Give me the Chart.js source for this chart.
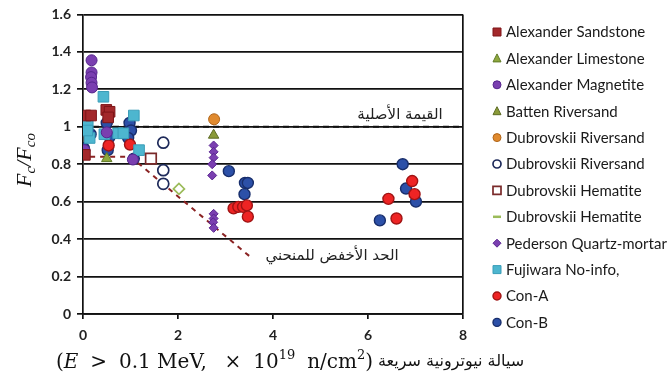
<!DOCTYPE html>
<html>
<head>
<meta charset="utf-8">
<script src="https://cdn.jsdelivr.net/npm/chart.js@4.4.0/dist/chart.umd.min.js"></script>
<style>
html,body{margin:0;padding:0;background:#fff;}
#wrap{width:672px;height:383px;}
</style>
</head>
<body>
<div id="wrap"><canvas id="c" width="672" height="383"></canvas></div>
<script>
// Axis ticks
const xTicks = [0, 2, 4, 6, 8];
const yTicks = [0, 0.2, 0.4, 0.6, 0.8, 1, 1.2, 1.4, 1.6];
const yTickLabels = ['0', '0.2', '0.4', '0.6', '0.8', '1', '1.2', '1.4', '1.6'];

// Series names (legend order)
const seriesNames = [
  'Alexander Sandstone', 'Alexander Limestone', 'Alexander Magnetite', 'Batten Riversand',
  'Dubrovskii Riversand', 'Dubrovskii Riversand', 'Dubrovskii Hematite', 'Dubrovskii Hematite',
  'Pederson Quartz-mortar', 'Fujiwara No-info,', 'Con-A', 'Con-B'
];

// Measurements: [fluence (x10^19 n/cm^2), Fc/Fco]
const alexSandstone = [[0.05,1.06],[0.17,1.06],[0.49,1.09],[0.56,1.08],[0.53,1.05],[0.04,0.85]];
const alexLimestone = [[0.5,0.83]];
const alexMagnetite = [[0.18,1.355],[0.18,1.29],[0.17,1.265],[0.18,1.235],[0.19,1.21],[0.03,0.875],[0.5,0.97],[1.05,0.825]];
const battenRiversand = [[2.75,0.955]];
const dubRiversandA = [[2.76,1.04]];
const dubRiversandB = [[1.69,0.915],[1.69,0.768],[1.69,0.695]];
const dubHematiteA = [[1.43,0.83]];
const dubHematiteB = [[2.02,0.668]];
const pedersonQuartz = [[2.75,0.90],[2.75,0.866],[2.75,0.835],[2.72,0.80],[2.72,0.74],[2.75,0.535],[2.75,0.51],[2.74,0.49],[2.75,0.46]];
const fujiwara = [[0.43,1.16],[1.07,1.06],[1.18,0.875],[0.74,0.965],[0.85,0.965],[0.1,1.01],[0.14,0.94],[0.09,0.98],[0.45,0.96]];
const conA = [[0.54,0.90],[0.99,0.905],[3.17,0.564],[3.27,0.572],[3.37,0.572],[3.45,0.58],[3.47,0.52],[6.43,0.615],[6.60,0.51],[6.93,0.71],[6.98,0.64]];
const conB = [[0.02,0.99],[0.02,0.885],[0.16,0.96],[0.5,1.02],[0.56,0.945],[0.52,0.875],[0.98,1.02],[1.01,0.98],[0.95,0.94],[1.07,0.83],[3.07,0.763],[3.41,0.70],[3.47,0.70],[3.40,0.64],[6.25,0.50],[6.73,0.80],[6.80,0.67],[7.01,0.60]];

// Reference lines
const originalValueLine = [[0,1],[8,1]];
const lowerBoundLine = [[0.15,0.84],[1.0,0.84],[3.5,0.31]];

const pts = a => a.map(p => ({x: p[0], y: p[1]}));

function series(i, data, style, fill, stroke, radius, bw) {
  return {
    label: seriesNames[i], data: pts(data), pointStyle: style,
    backgroundColor: fill, borderColor: stroke, pointRadius: radius,
    borderWidth: bw, showLine: false, legendStyle: style
  };
}

const datasets = [
  series(0, alexSandstone, 'rect', '#A3282B', '#7E1518', 7.5, 1),
  series(1, alexLimestone, 'triangle', '#8FA83E', '#5F7A26', 6, 1),
  series(2, alexMagnetite, 'circle', '#7A3FB0', '#55248C', 5.5, 1),
  series(3, battenRiversand, 'triangle', '#8A9A38', '#5C6B22', 6, 1),
  series(4, dubRiversandA, 'circle', '#E08A2E', '#B0651A', 5.5, 1),
  series(5, dubRiversandB, 'circle', '#FFFFFF', '#1E2A5A', 5.5, 1.7),
  series(6, dubHematiteA, 'rect', '#FFFFFF', '#7A2A2A', 7.5, 1.7),
  series(7, dubHematiteB, 'rectRot', '#FFFFFF', '#9BBB59', 5.5, 1.7),
  series(8, pedersonQuartz, 'rectRot', '#7A3FB0', '#5A2590', 4.5, 1),
  series(9, fujiwara, 'rect', '#4DB6CF', '#3A9DB8', 7.5, 1),
  series(10, conA, 'circle', '#EE2424', '#A01414', 5.5, 1.4),
  series(11, conB, 'circle', '#2C50A8', '#182E6C', 5.5, 1.4)
];
datasets[7].legendStyle = 'dash';

datasets.push({
  label: 'ref1', data: pts(originalValueLine), showLine: true, pointRadius: 0,
  borderColor: '#111', borderWidth: 2, borderDash: [6, 4], fill: false, inLegend: false
});
datasets.push({
  label: 'ref2', data: pts(lowerBoundLine), showLine: true, pointRadius: 0,
  borderColor: '#8B2424', borderWidth: 2, borderDash: [5, 5], fill: false, inLegend: false
});

function drawMarker(ctx, ds, x, y) {
  ctx.save();
  ctx.fillStyle = ds.backgroundColor;
  ctx.strokeStyle = ds.borderColor;
  ctx.lineWidth = ds.borderWidth;
  const r = 4;
  ctx.beginPath();
  if (ds.legendStyle === 'rect') {
    ctx.rect(x - r, y - r, 2 * r, 2 * r);
  } else if (ds.legendStyle === 'triangle') {
    ctx.moveTo(x, y - r - 0.5); ctx.lineTo(x + r, y + r - 0.5); ctx.lineTo(x - r, y + r - 0.5); ctx.closePath();
  } else if (ds.legendStyle === 'rectRot') {
    ctx.moveTo(x, y - r); ctx.lineTo(x + r, y); ctx.lineTo(x, y + r); ctx.lineTo(x - r, y); ctx.closePath();
  } else if (ds.legendStyle === 'dash') {
    ctx.restore(); ctx.save();
    ctx.strokeStyle = '#9BBB59'; ctx.lineWidth = 2.5;
    ctx.beginPath(); ctx.moveTo(x - 4, y); ctx.lineTo(x + 4, y); ctx.stroke();
    ctx.restore();
    return;
  } else {
    ctx.arc(x, y, r, 0, Math.PI * 2);
  }
  ctx.fill(); ctx.stroke();
  ctx.restore();
}

const textPlugin = {
  id: 'texts',
  afterDraw(chart) {
    const ctx = chart.ctx;

    // legend
    ctx.save();
    ctx.font = '15px Lato, "Noto Sans", sans-serif';
    ctx.fillStyle = '#1a1a1a';
    ctx.textBaseline = 'middle';
    ctx.textAlign = 'left';
    chart.data.datasets.filter(d => d.inLegend !== false).forEach((ds, i) => {
      const y = 32 + i * 26.4;
      drawMarker(ctx, ds, 497, y);
      ctx.fillText(ds.label, 506, y + 0.5);
    });
    ctx.restore();

    // annotations on the reference lines
    ctx.save();
    ctx.fillStyle = '#222';
    ctx.font = '15px "DejaVu Sans", sans-serif';
    ctx.textAlign = 'center';
    ctx.textBaseline = 'middle';
    ctx.fillText('القيمة الأصلية', 400, 115);
    ctx.fillText('الحد الأخفض للمنحني', 332, 256);
    ctx.restore();

    // y-axis title
    ctx.save();
    ctx.translate(24, 160);
    ctx.rotate(-Math.PI / 2);
    ctx.fillStyle = '#111';
    ctx.textBaseline = 'alphabetic';
    const big = 'italic 22px "Liberation Serif", serif';
    const small = 'italic 15px "Liberation Serif", serif';
    const parts = [[big, 'F', 0], [small, 'c', 4], [big, '/', 0], [big, 'F', 0], [small, 'co', 4]];
    let w = 0;
    parts.forEach(p => { ctx.font = p[0]; w += ctx.measureText(p[1]).width; });
    let cx = -w / 2;
    parts.forEach(p => { ctx.font = p[0]; ctx.fillText(p[1], cx, 7 + p[2]); cx += ctx.measureText(p[1]).width; });
    ctx.restore();

    // x-axis title: math part spread over 56..374, Arabic part after it
    ctx.save();
    ctx.fillStyle = '#111';
    ctx.textBaseline = 'alphabetic';
    const base = 368;
    const n = '20px "DejaVu Serif", serif';
    const it = 'italic 20px "DejaVu Serif", serif';
    const sup = '13px "DejaVu Serif", serif';
    const xparts = [[n, '(', 0, 0], [it, 'E', 0, 1], [n, '>', 0, 1], [n, '0.1 MeV,', 0, 1.5], [n, '\u00d7', 0, 1], [n, '10', 0, 0], [sup, '19', -9, 1], [n, 'n/cm', 0, 0], [sup, '2', -9, 0], [n, ')', 0, 0]];
    let tw = 0, gaps = 0;
    xparts.forEach(p => { ctx.font = p[0]; tw += ctx.measureText(p[1]).width; gaps += p[3]; });
    const gap = Math.max(4, (373 - 56 - tw) / gaps);
    let px = 56;
    xparts.forEach(p => {
      ctx.font = p[0]; ctx.fillText(p[1], px, base + p[2]);
      px += ctx.measureText(p[1]).width + p[3] * gap;
    });
    ctx.font = '16px "DejaVu Sans", sans-serif';
    const ar = 'سيالة نيوترونية سريعة';
    const aw = ctx.measureText(ar).width;
    ctx.fillText(ar, Math.max(px + 5, 521 - aw), base - 2);
    ctx.restore();
  }
};

new Chart(document.getElementById('c'), {
  type: 'scatter',
  data: { datasets },
  options: {
    responsive: false,
    animation: false,
    devicePixelRatio: 1,
    layout: { padding: { left: 0, right: 209, top: 14, bottom: 0 } },
    plugins: { legend: { display: false }, tooltip: { enabled: false } },
    scales: {
      x: {
        type: 'linear', min: 0, max: 8,
        afterBuildTicks: s => { s.ticks = xTicks.map(v => ({ value: v })); },
        afterFit: s => { s.height = 69; },
        ticks: { font: { family: 'Lato, "Noto Sans", sans-serif', size: 14, weight: 'bold' }, color: '#222', padding: 8 },
        grid: {
          color: c => (c.tick && c.tick.value === 8 ? '#111' : 'rgba(0,0,0,0)'),
          tickColor: '#111', tickLength: 5, lineWidth: 1.7
        },
        border: { display: true, color: '#111', width: 1.7 }
      },
      y: {
        type: 'linear', min: 0, max: 1.6,
        afterBuildTicks: s => { s.ticks = yTicks.map(v => ({ value: v })); },
        afterFit: s => { s.width = 83; },
        ticks: {
          font: { family: 'Lato, "Noto Sans", sans-serif', size: 14, weight: 'bold' }, color: '#222', padding: 6,
          callback: (v, i) => yTickLabels[i]
        },
        grid: { color: '#111', tickColor: '#111', tickLength: 6, lineWidth: 1.7 },
        border: { display: true, color: '#111', width: 1.7 }
      }
    }
  },
  plugins: [textPlugin]
});
</script>
</body>
</html>
